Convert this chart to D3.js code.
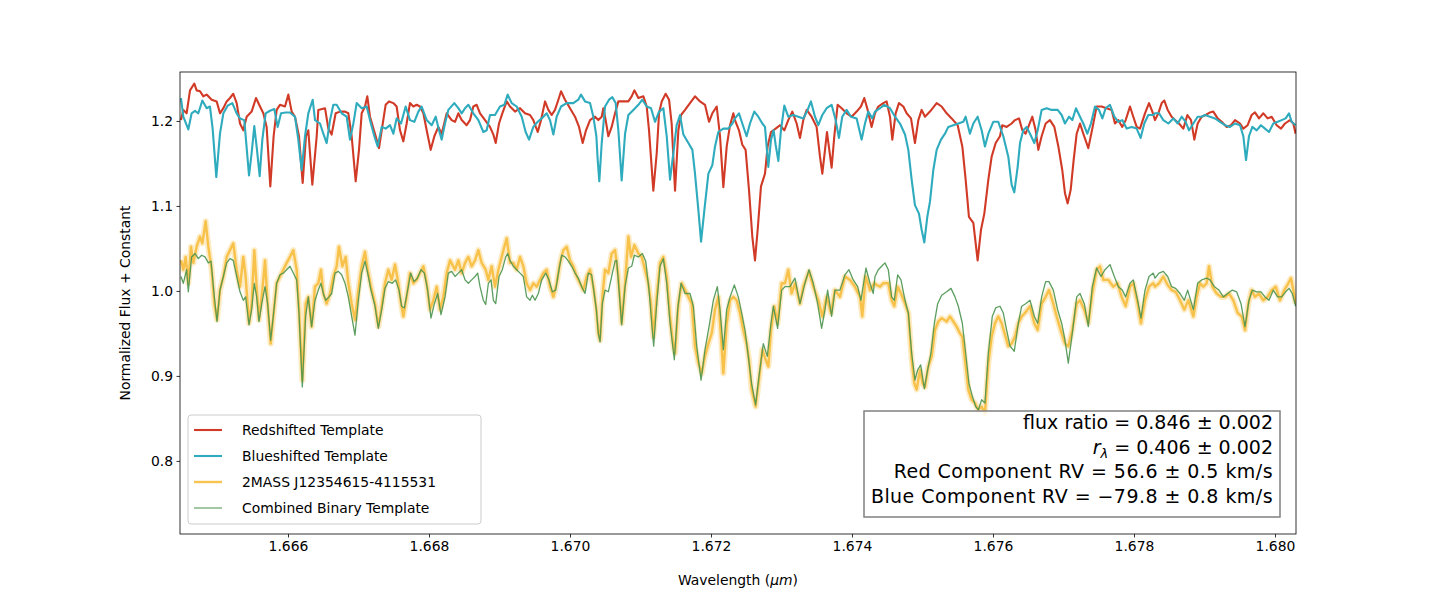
<!DOCTYPE html>
<html>
<head>
<meta charset="utf-8">
<script src="https://cdn.jsdelivr.net/npm/d3@7"></script>
<style>
  body { margin: 0; background: #fff; }
  svg text { font-family: "DejaVu Sans", sans-serif; }
</style>
</head>
<body>
<div id="chart"></div>
<script>
// spectra: [wavelength (um), normalized flux + constant]
const redshifted = [
  [1.664482,1.201],[1.664515,1.213],[1.664562,1.209],[1.664610,1.236],[1.664671,1.244],[1.664704,1.236],[1.664752,1.235],[1.664799,1.229],[1.664846,1.231],[1.664917,1.225],
  [1.664988,1.223],[1.665035,1.209],[1.665083,1.215],[1.665130,1.223],[1.665177,1.227],[1.665224,1.232],[1.665272,1.221],[1.665319,1.197],[1.665366,1.189],[1.665414,1.205],
  [1.665484,1.211],[1.665546,1.227],[1.665603,1.217],[1.665650,1.209],[1.665697,1.193],[1.665749,1.123],[1.665796,1.182],[1.665839,1.213],[1.665886,1.219],[1.665957,1.217],
  [1.666005,1.231],[1.666052,1.211],[1.666099,1.205],[1.666156,1.182],[1.666208,1.127],[1.666255,1.182],[1.666288,1.189],[1.666345,1.125],
  [1.666407,1.182],[1.666430,1.213],[1.666525,1.215],[1.666572,1.191],[1.666619,1.184],[1.666676,1.209],[1.666738,1.211],[1.666809,1.211],[1.666856,1.209],[1.666903,1.182],
  [1.666960,1.129],[1.667007,1.166],[1.667045,1.209],[1.667092,1.217],[1.667125,1.229],[1.667163,1.205],[1.667234,1.185],[1.667291,1.168],[1.667329,1.189],[1.667385,1.219],
  [1.667433,1.223],[1.667494,1.221],[1.667541,1.217],[1.667589,1.189],[1.667636,1.176],[1.667683,1.197],[1.667730,1.221],[1.667778,1.217],[1.667825,1.219],[1.667872,1.217],
  [1.667920,1.209],[1.667967,1.189],[1.668024,1.166],[1.668076,1.182],[1.668132,1.193],[1.668180,1.185],[1.668251,1.209],[1.668321,1.201],
  [1.668369,1.199],[1.668416,1.209],[1.668464,1.201],[1.668534,1.195],[1.668582,1.201],[1.668629,1.217],[1.668676,1.219],[1.668724,1.209],[1.668795,1.201],[1.668865,1.193],
  [1.668913,1.184],[1.668946,1.174],[1.668993,1.197],[1.669040,1.209],[1.669102,1.223],[1.669149,1.217],[1.669220,1.211],[1.669291,1.215],[1.669362,1.209],[1.669433,1.207],
  [1.669480,1.201],[1.669542,1.187],[1.669589,1.201],[1.669646,1.223],[1.669693,1.213],[1.669740,1.207],[1.669787,1.213],[1.669835,1.225],[1.669873,1.235],[1.669929,1.225],
  [1.670000,1.215],[1.670071,1.205],[1.670128,1.193],[1.670180,1.174],[1.670227,1.189],[1.670284,1.201],
  [1.670355,1.205],[1.670402,1.201],[1.670450,1.205],[1.670473,1.215],[1.670506,1.201],[1.670544,1.182],[1.670591,1.193],[1.670639,1.209],[1.670686,1.223],[1.670757,1.223],
  [1.670828,1.223],[1.670875,1.229],[1.670913,1.236],[1.670970,1.227],[1.671041,1.229],[1.671088,1.217],[1.671121,1.189],[1.671182,1.118],[1.671230,1.162],[1.671263,1.209],
  [1.671301,1.223],[1.671357,1.232],[1.671405,1.225],[1.671442,1.197],[1.671490,1.118],[1.671537,1.189],[1.671575,1.207],[1.671632,1.213],[1.671702,1.221],[1.671773,1.229],
  [1.671844,1.223],[1.671915,1.219],[1.671972,1.199],[1.672019,1.209],[1.672081,1.217],[1.672128,1.182],[1.672175,1.122],[1.672223,1.170],[1.672270,1.195],[1.672317,1.209],
  [1.672340,1.201],[1.672397,1.189],[1.672444,1.172],[1.672491,1.166],[1.672539,1.119],[1.672586,1.064],[1.672624,1.036],[1.672662,1.072],[1.672709,1.123],[1.672766,1.138],
  [1.672803,1.170],[1.672851,1.187],[1.672917,1.191],[1.672978,1.195],[1.673040,1.189],[1.673096,1.201],[1.673153,1.211],[1.673215,1.197],[1.673262,1.180],[1.673309,1.201],
  [1.673357,1.213],[1.673427,1.205],[1.673498,1.193],[1.673546,1.158],[1.673579,1.138],[1.673617,1.166],[1.673645,1.187],[1.673678,1.166],[1.673711,1.145],[1.673749,1.182],
  [1.673796,1.219],[1.673853,1.215],[1.673924,1.209],[1.673995,1.205],[1.674066,1.211],[1.674127,1.217],[1.674174,1.227],[1.674222,1.213],[1.674278,1.193],
  [1.674326,1.209],[1.674373,1.217],[1.674444,1.221],[1.674491,1.223],[1.674539,1.205],[1.674572,1.178],[1.674619,1.209],[1.674666,1.221],[1.674728,1.217],[1.674775,1.209],
  [1.674837,1.203],[1.674893,1.174],[1.674941,1.201],[1.674988,1.213],[1.675035,1.205],[1.675106,1.211],[1.675201,1.221],[1.675272,1.217],[1.675343,1.209],[1.675413,1.203],
  [1.675499,1.195],[1.675565,1.170],[1.675612,1.131],[1.675659,1.087],[1.675721,1.080],[1.675782,1.036],[1.675830,1.072],[1.675877,1.091],[1.675934,1.131],[1.675981,1.158],
  [1.676038,1.174],[1.676099,1.182],[1.676132,1.195],[1.676194,1.193],[1.676264,1.197],
  [1.676312,1.201],[1.676369,1.203],[1.676416,1.189],[1.676463,1.185],[1.676511,1.195],[1.676558,1.205],[1.676605,1.189],[1.676643,1.166],[1.676690,1.182],[1.676747,1.197],
  [1.676808,1.201],[1.676870,1.193],[1.676927,1.170],[1.676983,1.142],[1.677021,1.115],[1.677059,1.103],[1.677102,1.119],[1.677144,1.154],[1.677187,1.185],[1.677234,1.197],
  [1.677281,1.185],[1.677352,1.168],[1.677409,1.191],[1.677470,1.217],[1.677541,1.217],[1.677612,1.215],[1.677683,1.213],[1.677730,1.197],[1.677778,1.201],[1.677834,1.193],
  [1.677882,1.201],[1.677943,1.217],[1.677990,1.205],[1.678038,1.193],[1.678085,1.191],[1.678156,1.209],[1.678213,1.221],[1.678260,1.211],
  [1.678298,1.201],[1.678345,1.209],[1.678393,1.221],[1.678430,1.224],[1.678478,1.213],[1.678534,1.205],[1.678582,1.201],[1.678638,1.197],[1.678700,1.191],[1.678757,1.207],
  [1.678809,1.201],[1.678856,1.178],[1.678903,1.197],[1.678960,1.205],[1.679017,1.207],[1.679078,1.210],[1.679125,1.211],[1.679187,1.203],[1.679244,1.199],[1.679315,1.193],
  [1.679376,1.195],[1.679433,1.201],[1.679504,1.197],[1.679551,1.191],[1.679612,1.195],[1.679669,1.207],[1.679716,1.210],[1.679773,1.203],[1.679835,1.209],[1.679896,1.203],
  [1.679953,1.205],[1.680024,1.195],[1.680085,1.191],[1.680142,1.197],[1.680213,1.201],[1.680260,1.197],[1.680293,1.185]
];

const blueshifted = [
  [1.664482,1.227],[1.664515,1.205],[1.664586,1.190],[1.664633,1.209],[1.664681,1.212],[1.664728,1.209],[1.664785,1.224],[1.664846,1.215],[1.664893,1.217],[1.664931,1.191],
  [1.664983,1.134],[1.665035,1.185],[1.665083,1.209],[1.665144,1.218],[1.665210,1.221],[1.665272,1.209],[1.665319,1.203],[1.665380,1.201],[1.665447,1.136],[1.665484,1.162],
  [1.665522,1.194],[1.665560,1.166],[1.665598,1.135],[1.665636,1.178],[1.665683,1.209],[1.665744,1.212],[1.665806,1.214],[1.665853,1.193],[1.665901,1.209],[1.665967,1.210],
  [1.666028,1.210],[1.666099,1.205],[1.666146,1.178],[1.666194,1.142],[1.666241,1.182],[1.666288,1.209],[1.666350,1.225],
  [1.666383,1.201],[1.666454,1.197],[1.666501,1.185],[1.666548,1.174],[1.666596,1.201],[1.666643,1.219],[1.666690,1.219],[1.666761,1.209],[1.666832,1.205],[1.666879,1.178],
  [1.666927,1.197],[1.666974,1.221],[1.667045,1.215],[1.667116,1.217],[1.667163,1.201],[1.667225,1.182],[1.667272,1.170],[1.667329,1.193],[1.667385,1.191],[1.667447,1.195],
  [1.667494,1.185],[1.667541,1.203],[1.667603,1.197],[1.667669,1.217],[1.667730,1.201],[1.667792,1.199],[1.667849,1.211],[1.667896,1.217],[1.667967,1.201],[1.668038,1.195],
  [1.668095,1.205],[1.668142,1.189],[1.668180,1.178],[1.668227,1.197],[1.668274,1.213],[1.668359,1.221],
  [1.668416,1.215],[1.668464,1.209],[1.668511,1.215],[1.668558,1.219],[1.668629,1.209],[1.668700,1.201],[1.668771,1.187],[1.668818,1.189],[1.668865,1.207],[1.668936,1.207],
  [1.669007,1.217],[1.669069,1.219],[1.669116,1.231],[1.669173,1.221],[1.669244,1.217],[1.669315,1.205],[1.669371,1.187],[1.669419,1.178],[1.669480,1.193],[1.669542,1.199],
  [1.669598,1.203],[1.669669,1.209],[1.669716,1.201],[1.669764,1.184],[1.669811,1.205],[1.669873,1.217],[1.669953,1.221],[1.670047,1.221],[1.670118,1.225],[1.670156,1.231],
  [1.670213,1.223],[1.670284,1.221],[1.670331,1.205],
  [1.670374,1.182],[1.670393,1.154],[1.670416,1.129],[1.670450,1.174],[1.670497,1.217],[1.670554,1.225],[1.670601,1.228],[1.670648,1.221],[1.670686,1.189],[1.670733,1.130],
  [1.670781,1.185],[1.670828,1.207],[1.670899,1.213],[1.670970,1.219],[1.671026,1.225],[1.671088,1.217],[1.671149,1.215],[1.671206,1.199],[1.671263,1.211],[1.671324,1.215],
  [1.671372,1.182],[1.671419,1.131],[1.671466,1.162],[1.671513,1.195],[1.671561,1.207],[1.671608,1.184],[1.671679,1.174],[1.671736,1.166],[1.671773,1.138],[1.671821,1.095],
  [1.671859,1.058],[1.671906,1.095],[1.671963,1.138],[1.672019,1.148],[1.672057,1.170],[1.672104,1.187],[1.672175,1.191],[1.672246,1.191],[1.672303,1.197],
  [1.672340,1.203],[1.672397,1.209],[1.672444,1.197],[1.672505,1.182],[1.672553,1.197],[1.672614,1.211],[1.672671,1.205],[1.672728,1.197],[1.672766,1.193],[1.672813,1.146],
  [1.672851,1.178],[1.672888,1.189],[1.672917,1.172],[1.672955,1.153],[1.672992,1.189],[1.673040,1.218],[1.673096,1.205],[1.673167,1.207],[1.673238,1.205],[1.673309,1.203],
  [1.673371,1.213],[1.673418,1.223],[1.673475,1.205],[1.673522,1.195],[1.673579,1.207],[1.673640,1.215],[1.673711,1.219],[1.673768,1.201],[1.673815,1.180],[1.673862,1.205],
  [1.673924,1.213],[1.673985,1.205],[1.674066,1.203],[1.674137,1.178],[1.674184,1.197],[1.674231,1.211],[1.674288,1.203],
  [1.674326,1.211],[1.674397,1.215],[1.674458,1.219],[1.674539,1.215],[1.674610,1.205],[1.674681,1.197],[1.674752,1.184],[1.674799,1.166],[1.674846,1.131],[1.674893,1.101],
  [1.674950,1.091],[1.674988,1.072],[1.675026,1.057],[1.675068,1.087],[1.675106,1.105],[1.675153,1.142],[1.675201,1.166],[1.675262,1.178],[1.675319,1.185],[1.675366,1.193],
  [1.675437,1.195],[1.675508,1.197],[1.675579,1.199],[1.675612,1.205],[1.675673,1.185],[1.675721,1.197],[1.675782,1.205],[1.675839,1.189],[1.675886,1.170],[1.675934,1.185],
  [1.676004,1.199],[1.676075,1.199],[1.676146,1.182],[1.676217,1.158],[1.676264,1.125],[1.676302,1.116],
  [1.676350,1.146],[1.676383,1.174],[1.676430,1.189],[1.676477,1.193],[1.676525,1.185],[1.676586,1.174],[1.676634,1.189],[1.676690,1.213],[1.676761,1.215],[1.676832,1.213],
  [1.676917,1.213],[1.676974,1.207],[1.677021,1.197],[1.677078,1.205],[1.677125,1.201],[1.677177,1.215],[1.677234,1.205],[1.677281,1.197],[1.677338,1.185],[1.677390,1.197],
  [1.677447,1.217],[1.677503,1.213],[1.677551,1.203],[1.677598,1.215],[1.677659,1.219],[1.677721,1.205],[1.677778,1.199],[1.677834,1.201],[1.677896,1.191],[1.677967,1.193],
  [1.678038,1.191],[1.678094,1.180],[1.678146,1.197],[1.678203,1.207],[1.678274,1.207],
  [1.678298,1.209],[1.678355,1.209],[1.678416,1.201],[1.678487,1.197],[1.678558,1.203],[1.678620,1.197],[1.678676,1.205],[1.678733,1.199],[1.678780,1.189],[1.678842,1.197],
  [1.678903,1.205],[1.678960,1.205],[1.679007,1.207],[1.679078,1.205],[1.679149,1.203],[1.679220,1.199],[1.679291,1.195],[1.679362,1.193],[1.679433,1.197],[1.679504,1.195],
  [1.679551,1.182],[1.679589,1.154],[1.679631,1.182],[1.679679,1.193],[1.679740,1.189],[1.679801,1.195],[1.679858,1.191],[1.679915,1.187],[1.679976,1.197],[1.680038,1.199],
  [1.680095,1.201],[1.680151,1.203],[1.680199,1.209],[1.680236,1.199],[1.680293,1.195]
];

const observed = [
  [1.664482,1.036],[1.664515,1.025],[1.664548,1.040],[1.664586,1.009],[1.664624,1.052],[1.664657,1.033],[1.664704,1.052],[1.664752,1.064],[1.664785,1.056],[1.664832,1.082],
  [1.664870,1.052],[1.664917,1.025],[1.664955,0.985],[1.664993,0.966],[1.665035,1.001],[1.665083,1.017],[1.665130,1.040],[1.665177,1.048],[1.665224,1.056],[1.665272,1.025],
  [1.665319,1.005],[1.665366,1.040],[1.665399,1.017],[1.665447,0.962],[1.665484,0.985],[1.665522,1.048],[1.665555,1.005],[1.665588,0.966],[1.665636,1.001],[1.665674,1.036],
  [1.665711,0.985],[1.665754,0.938],[1.665801,0.978],[1.665839,1.009],[1.665886,1.017],[1.665934,1.025],[1.665981,1.033],[1.666028,1.040],[1.666075,1.048],[1.666123,1.025],
  [1.666156,0.978],[1.666203,0.895],[1.666250,0.985],[1.666288,0.993],[1.666335,0.958],
  [1.666383,1.005],[1.666430,1.009],[1.666468,1.025],[1.666501,0.997],[1.666548,0.985],[1.666596,0.997],[1.666643,1.017],[1.666690,1.029],[1.666723,1.052],[1.666771,1.029],
  [1.666818,1.040],[1.666856,1.009],[1.666903,0.985],[1.666950,0.966],[1.666998,1.001],[1.667045,1.029],[1.667092,1.046],[1.667130,1.025],[1.667177,1.005],[1.667234,0.985],
  [1.667281,0.958],[1.667329,0.982],[1.667376,1.009],[1.667423,1.025],[1.667470,1.013],[1.667518,1.031],[1.667565,1.009],[1.667603,0.985],[1.667636,0.970],[1.667683,0.993],
  [1.667730,1.021],[1.667778,1.009],[1.667825,1.013],[1.667872,1.021],[1.667920,1.029],[1.667967,1.009],[1.668014,0.978],[1.668061,0.989],[1.668109,1.005],[1.668156,0.978],
  [1.668203,0.993],[1.668251,1.021],[1.668298,1.036],
  [1.668369,1.025],[1.668416,1.036],[1.668464,1.021],[1.668511,1.033],[1.668558,1.040],[1.668605,1.029],[1.668653,1.036],[1.668700,1.048],[1.668747,1.033],[1.668804,1.025],
  [1.668842,1.013],[1.668889,1.029],[1.668936,1.005],[1.668984,1.025],[1.669031,1.040],[1.669069,1.052],[1.669102,1.062],[1.669149,1.033],[1.669196,1.033],[1.669244,1.025],
  [1.669291,1.040],[1.669338,1.029],[1.669385,1.009],[1.669433,1.001],[1.669480,1.009],[1.669527,1.005],[1.669575,1.013],[1.669622,1.021],[1.669669,1.025],[1.669716,1.005],
  [1.669764,0.993],[1.669811,1.009],[1.669858,1.033],[1.669906,1.048],[1.669953,1.052],[1.670000,1.036],[1.670047,1.029],[1.670095,1.017],[1.670142,1.009],[1.670189,1.001],
  [1.670236,1.017],[1.670284,1.025],[1.670331,1.005],
  [1.670374,0.978],[1.670402,0.950],[1.670426,0.942],[1.670459,0.993],[1.670497,1.025],[1.670544,1.021],[1.670591,1.044],[1.670639,1.048],[1.670686,1.017],[1.670733,0.962],
  [1.670781,1.009],[1.670828,1.064],[1.670866,1.040],[1.670913,1.054],[1.670970,1.044],[1.671017,1.040],[1.671064,1.025],[1.671111,1.009],[1.671149,0.985],[1.671182,0.946],
  [1.671230,0.993],[1.671277,1.033],[1.671324,1.040],[1.671372,1.017],[1.671419,0.970],[1.671466,0.935],[1.671490,0.927],[1.671537,0.985],[1.671584,1.009],[1.671632,1.001],
  [1.671679,0.993],[1.671726,0.985],[1.671773,0.935],[1.671821,0.915],[1.671868,0.903],[1.671915,0.923],[1.671963,0.938],[1.672010,0.950],[1.672057,0.978],[1.672104,0.993],
  [1.672142,0.946],[1.672175,0.903],[1.672223,0.962],[1.672270,0.989],[1.672317,0.993],
  [1.672364,0.989],[1.672411,0.974],[1.672458,0.954],[1.672505,0.938],[1.672539,0.919],[1.672576,0.884],[1.672633,0.864],[1.672680,0.895],[1.672728,0.931],[1.672775,0.919],
  [1.672813,0.911],[1.672851,0.954],[1.672898,0.982],[1.672945,0.962],[1.673002,1.009],[1.673049,1.009],[1.673096,1.025],[1.673144,0.997],[1.673191,1.009],[1.673262,0.985],
  [1.673309,1.005],[1.673390,1.023],[1.673451,1.005],[1.673522,0.989],[1.673579,0.970],[1.673640,0.993],[1.673702,0.974],[1.673758,1.001],[1.673829,0.993],[1.673900,1.017],
  [1.673971,1.013],[1.674042,1.005],[1.674113,0.993],[1.674146,0.970],[1.674193,1.017],[1.674255,1.001],[1.674316,1.009],
  [1.674350,1.007],[1.674397,1.005],[1.674444,1.009],[1.674515,1.009],[1.674562,0.989],[1.674600,0.982],[1.674648,1.005],[1.674695,0.997],[1.674752,0.985],[1.674799,0.974],
  [1.674846,0.919],[1.674884,0.891],[1.674917,0.884],[1.674964,0.907],[1.675002,0.891],[1.675035,0.887],[1.675082,0.911],[1.675130,0.923],[1.675177,0.954],[1.675224,0.964],
  [1.675272,0.968],[1.675343,0.964],[1.675390,0.970],[1.675437,0.964],[1.675484,0.958],[1.675532,0.950],[1.675565,0.946],[1.675603,0.919],[1.675650,0.884],[1.675697,0.872],
  [1.675744,0.868],[1.675792,0.860],[1.675839,0.864],[1.675886,0.856],[1.675934,0.915],[1.675981,0.946],[1.676028,0.962],[1.676075,0.970],[1.676123,0.962],[1.676179,0.946],
  [1.676217,0.935],[1.676264,0.938],
  [1.676312,0.946],[1.676359,0.962],[1.676407,0.970],[1.676454,0.974],[1.676525,0.982],[1.676586,0.962],[1.676634,0.954],[1.676690,0.985],[1.676747,0.993],[1.676794,1.001],
  [1.676842,0.989],[1.676903,0.970],[1.676974,0.950],[1.677021,0.938],[1.677068,0.935],[1.677125,0.954],[1.677187,0.985],[1.677234,0.989],[1.677295,0.978],[1.677352,0.962],
  [1.677409,0.997],[1.677470,1.025],[1.677518,1.029],[1.677565,1.013],[1.677636,1.013],[1.677707,1.005],[1.677768,1.009],[1.677825,0.993],[1.677882,0.982],[1.677943,1.005],
  [1.677990,1.009],[1.678052,0.985],[1.678099,0.962],[1.678156,0.989],[1.678213,1.005],[1.678274,1.009],
  [1.678298,1.005],[1.678355,1.009],[1.678416,1.017],[1.678478,1.007],[1.678534,1.001],[1.678591,0.999],[1.678653,0.989],[1.678714,0.978],[1.678771,0.989],[1.678842,0.970],
  [1.678889,0.993],[1.678936,1.009],[1.678984,1.005],[1.679031,1.009],[1.679064,1.029],[1.679111,1.005],[1.679173,0.997],[1.679234,0.993],[1.679291,0.993],[1.679348,0.997],
  [1.679409,0.989],[1.679471,0.974],[1.679527,0.970],[1.679575,0.954],[1.679622,0.985],[1.679669,1.001],[1.679716,0.993],[1.679773,0.997],[1.679835,0.989],[1.679896,0.993],
  [1.679953,1.001],[1.680010,1.005],[1.680071,0.989],[1.680132,1.001],[1.680189,1.009],[1.680227,1.015],[1.680260,1.001],[1.680293,0.985]
];

const combined = [
  [1.664482,1.017],[1.664515,1.009],[1.664562,1.025],[1.664586,0.999],[1.664633,1.040],[1.664681,1.044],[1.664728,1.038],[1.664775,1.042],[1.664823,1.040],[1.664870,1.033],
  [1.664908,1.035],[1.664955,0.993],[1.664993,0.964],[1.665035,1.001],[1.665083,1.017],[1.665130,1.033],[1.665177,1.038],[1.665224,1.036],[1.665272,1.017],[1.665319,0.999],
  [1.665366,0.989],[1.665399,0.993],[1.665447,0.960],[1.665484,0.978],[1.665522,1.009],[1.665555,0.993],[1.665588,0.964],[1.665636,0.989],[1.665674,1.005],[1.665711,0.985],
  [1.665754,0.942],[1.665801,0.978],[1.665839,1.009],[1.665886,1.019],[1.665934,1.021],[1.665981,1.025],[1.666028,1.029],[1.666075,1.021],[1.666123,1.013],[1.666156,0.974],
  [1.666203,0.887],[1.666250,0.970],[1.666288,0.993],[1.666335,0.958],
  [1.666383,0.989],[1.666430,1.001],[1.666468,1.009],[1.666501,0.997],[1.666534,0.989],[1.666582,0.993],[1.666619,0.997],[1.666667,1.021],[1.666714,1.023],[1.666761,1.019],
  [1.666809,1.009],[1.666856,0.993],[1.666903,0.970],[1.666950,0.948],[1.666998,0.989],[1.667045,1.021],[1.667092,1.035],[1.667130,1.021],[1.667177,1.001],[1.667234,0.982],
  [1.667281,0.956],[1.667329,0.978],[1.667376,1.003],[1.667423,1.011],[1.667480,1.009],[1.667527,1.013],[1.667574,1.001],[1.667612,0.982],[1.667650,0.980],[1.667697,1.001],
  [1.667740,1.021],[1.667787,1.011],[1.667834,1.015],[1.667887,1.025],[1.667934,1.021],[1.667981,1.001],[1.668028,0.968],[1.668076,0.985],[1.668123,0.997],[1.668170,0.972],
  [1.668227,0.993],[1.668274,1.021],[1.668321,1.023],
  [1.668369,1.017],[1.668416,1.021],[1.668464,1.025],[1.668511,1.013],[1.668558,1.009],[1.668605,1.013],[1.668653,1.017],[1.668690,1.021],[1.668724,1.005],[1.668771,0.989],
  [1.668804,0.984],[1.668842,1.009],[1.668880,1.013],[1.668913,0.989],[1.668946,0.985],[1.668993,1.017],[1.669040,1.025],[1.669088,1.040],[1.669116,1.044],[1.669149,1.036],
  [1.669196,1.029],[1.669244,1.025],[1.669291,1.021],[1.669338,1.017],[1.669385,0.993],[1.669433,0.989],[1.669466,0.995],[1.669504,0.989],[1.669551,0.997],[1.669598,1.013],
  [1.669655,1.021],[1.669702,1.013],[1.669750,0.999],[1.669797,1.001],[1.669844,1.025],[1.669882,1.042],[1.669929,1.040],[1.669977,1.035],[1.670024,1.029],[1.670071,1.021],
  [1.670118,1.015],[1.670166,1.005],[1.670213,0.997],[1.670260,1.021],[1.670307,1.019],
  [1.670374,0.978],[1.670402,0.950],[1.670426,0.940],[1.670459,0.985],[1.670497,1.001],[1.670544,0.999],[1.670591,1.017],[1.670639,1.035],[1.670662,1.036],[1.670695,1.001],
  [1.670733,0.960],[1.670781,1.005],[1.670828,1.027],[1.670875,1.029],[1.670913,1.042],[1.670970,1.040],[1.671026,1.044],[1.671074,1.035],[1.671121,1.001],[1.671159,0.962],
  [1.671187,0.935],[1.671230,0.985],[1.671277,1.029],[1.671324,1.038],[1.671372,1.009],[1.671419,0.962],[1.671480,0.919],[1.671527,0.978],[1.671575,1.009],[1.671632,0.997],
  [1.671702,0.997],[1.671750,0.982],[1.671797,0.935],[1.671859,0.895],[1.671915,0.931],[1.671972,0.958],[1.672033,0.989],[1.672090,1.005],[1.672128,0.978],[1.672175,0.931],
  [1.672223,0.978],[1.672270,0.993],[1.672331,1.007],
  [1.672387,0.993],[1.672435,0.974],[1.672482,0.954],[1.672529,0.923],[1.672576,0.891],[1.672633,0.866],[1.672680,0.899],[1.672742,0.938],[1.672799,0.923],[1.672851,0.962],
  [1.672884,0.982],[1.672945,0.956],[1.673002,1.001],[1.673049,1.005],[1.673120,1.005],[1.673191,1.015],[1.673262,0.985],[1.673333,1.009],[1.673390,1.025],[1.673451,1.009],
  [1.673513,0.985],[1.673569,0.956],[1.673617,0.978],[1.673654,1.001],[1.673711,0.970],[1.673758,1.001],[1.673829,1.001],[1.673900,1.019],[1.673957,1.025],[1.674018,1.013],
  [1.674080,1.005],[1.674127,0.989],[1.674198,1.027],[1.674255,1.009],[1.674302,0.997],
  [1.674326,1.017],[1.674373,1.025],[1.674420,1.029],[1.674468,1.033],[1.674515,1.025],[1.674562,0.993],[1.674600,0.989],[1.674648,1.019],[1.674695,1.013],[1.674752,0.989],
  [1.674799,0.974],[1.674846,0.927],[1.674893,0.895],[1.674931,0.907],[1.674974,0.913],[1.675026,0.885],[1.675073,0.907],[1.675120,0.927],[1.675168,0.962],[1.675215,0.985],
  [1.675272,0.995],[1.675343,0.999],[1.675404,1.003],[1.675461,0.993],[1.675508,0.982],[1.675565,0.962],[1.675612,0.927],[1.675659,0.891],[1.675707,0.876],[1.675754,0.864],
  [1.675792,0.860],[1.675839,0.872],[1.675886,0.868],[1.675934,0.927],[1.675990,0.970],[1.676038,0.980],[1.676099,0.982],[1.676146,0.974],[1.676194,0.954],[1.676241,0.935],
  [1.676302,0.929],
  [1.676359,0.962],[1.676407,0.982],[1.676463,0.985],[1.676525,0.989],[1.676586,0.970],[1.676634,0.962],[1.676690,0.993],[1.676747,1.011],[1.676794,1.011],[1.676856,1.001],
  [1.676917,0.978],[1.676974,0.962],[1.677021,0.942],[1.677068,0.915],[1.677125,0.950],[1.677187,0.993],[1.677234,0.997],[1.677295,0.985],[1.677352,0.958],[1.677409,1.005],
  [1.677470,1.027],[1.677532,1.017],[1.677589,1.025],[1.677659,1.031],[1.677721,1.017],[1.677778,1.005],[1.677834,1.001],[1.677882,0.993],[1.677943,1.009],[1.677990,1.013],
  [1.678052,0.989],[1.678099,0.968],[1.678156,1.001],[1.678213,1.017],[1.678274,1.021],
  [1.678298,1.015],[1.678355,1.021],[1.678416,1.023],[1.678478,1.017],[1.678534,1.005],[1.678591,1.003],[1.678653,0.997],[1.678714,0.989],[1.678761,1.001],[1.678842,0.978],
  [1.678903,1.009],[1.678960,1.013],[1.679031,1.015],[1.679078,1.013],[1.679140,1.005],[1.679206,1.001],[1.679267,0.993],[1.679329,0.997],[1.679395,1.001],[1.679456,0.999],
  [1.679518,0.985],[1.679575,0.958],[1.679631,0.989],[1.679679,1.001],[1.679740,0.999],[1.679801,0.999],[1.679858,0.993],[1.679915,0.989],[1.679976,1.001],[1.680038,0.993],
  [1.680095,0.993],[1.680151,0.999],[1.680199,1.003],[1.680246,0.997],[1.680293,0.982]
];

const xTicks = [1.666, 1.668, 1.670, 1.672, 1.674, 1.676, 1.678, 1.680];
const yTicks = [0.8, 0.9, 1.0, 1.1, 1.2];
const legendNames = ["Redshifted Template", "Blueshifted Template", "2MASS J12354615-4115531", "Combined Binary Template"];
const fitResults = ["flux ratio = 0.846 \u00b1 0.002", " = 0.406 \u00b1 0.002", "Red Component RV = 56.6 \u00b1 0.5 km/s", "Blue Component RV = \u221279.8 \u00b1 0.8 km/s"];

const W = 1440, H = 600;
const margin = { top: 72, right: 144, bottom: 66, left: 180 },
  width = W - margin.left - margin.right,
  height = H - margin.top - margin.bottom;

const x = d3.scaleLinear().domain([1.664468, 1.680298]).range([0, width]);
const y = d3.scaleLinear().domain([0.714, 1.2576]).range([height, 0]);

const root = d3.select("#chart").append("svg")
  .attr("width", W).attr("height", H);

const svg = root.append("g")
  .attr("transform", `translate(${margin.left},${margin.top})`);

svg.append("clipPath").attr("id", "clip")
  .append("rect").attr("width", width).attr("height", height);

const line = d3.line().x(d => x(d[0])).y(d => y(d[1]));
const plot = svg.append("g").attr("clip-path", "url(#clip)");

const red = "#d13a26", teal = "#2eabbd", gold = "#f7bd3c", green = "#4a944e";

plot.append("path").datum(redshifted)
  .attr("fill", "none").attr("stroke", red).attr("stroke-width", 2.1)
  .attr("stroke-linejoin", "round").attr("d", line);

plot.append("path").datum(blueshifted)
  .attr("fill", "none").attr("stroke", teal).attr("stroke-width", 2.1)
  .attr("stroke-linejoin", "round").attr("d", line);

// error band of the observed spectrum
plot.append("path").datum(observed)
  .attr("fill", "none").attr("stroke", gold).attr("stroke-width", 6)
  .attr("stroke-opacity", 0.3).attr("stroke-linejoin", "round").attr("d", line);

plot.append("path").datum(observed)
  .attr("fill", "none").attr("stroke", gold).attr("stroke-width", 2.4)
  .attr("stroke-opacity", 0.9).attr("stroke-linejoin", "round").attr("d", line);

plot.append("path").datum(combined)
  .attr("fill", "none").attr("stroke", green).attr("stroke-width", 1.3)
  .attr("stroke-opacity", 0.9).attr("stroke-linejoin", "round").attr("d", line);

// axes
const xAxis = svg.append("g")
  .attr("transform", `translate(0,${height})`)
  .call(d3.axisBottom(x).tickValues(xTicks).tickFormat(d3.format(".3f"))
    .tickSize(3.5).tickPadding(3.5).tickSizeOuter(0));

const yAxis = svg.append("g")
  .call(d3.axisLeft(y).tickValues(yTicks).tickFormat(d3.format(".1f"))
    .tickSize(3.5).tickPadding(3.5).tickSizeOuter(0));

[xAxis, yAxis].forEach(a => {
  a.select(".domain").remove();
  a.selectAll(".tick line").attr("stroke", "#000").attr("stroke-width", 0.8);
  a.selectAll(".tick text").attr("fill", "#000").style("font-size", "13.9px")
    .style("font-family", "DejaVu Sans");
});

svg.append("rect")
  .attr("width", width).attr("height", height)
  .attr("fill", "none").attr("stroke", "#000").attr("stroke-width", 0.8);

// axis labels
svg.append("text")
  .attr("transform", "rotate(-90)")
  .attr("x", -height / 2).attr("y", -50)
  .attr("text-anchor", "middle")
  .style("font-size", "13.9px")
  .text("Normalized Flux + Constant");

const xl = svg.append("text")
  .attr("x", width / 2).attr("y", height + 51)
  .attr("text-anchor", "middle")
  .style("font-size", "13.9px");
xl.append("tspan").text("Wavelength (");
xl.append("tspan").style("font-style", "italic").text("\u03bcm");
xl.append("tspan").text(")");

// legend
const lg = root.append("g").attr("transform", "translate(188,415)");
lg.append("rect")
  .attr("width", 293).attr("height", 109).attr("rx", 3)
  .attr("fill", "#fff").attr("fill-opacity", 0.8)
  .attr("stroke", "#cccccc").attr("stroke-width", 1);

const legendStyle = [
  { c: red, w: 2.1, o: 1 },
  { c: teal, w: 2.1, o: 1 },
  { c: gold, w: 2.4, o: 0.9 },
  { c: green, w: 1.3, o: 0.8 }
];
legendNames.forEach((n, i) => {
  const yy = 15 + i * 26;
  lg.append("line")
    .attr("x1", 6).attr("x2", 34).attr("y1", yy).attr("y2", yy)
    .attr("stroke", legendStyle[i].c).attr("stroke-width", legendStyle[i].w)
    .attr("stroke-opacity", legendStyle[i].o);
  lg.append("text")
    .attr("x", 54).attr("y", yy + 5)
    .style("font-size", "13.9px")
    .text(n);
});

// fit results box
const tb = root.append("g").attr("transform", "translate(864,411)");
tb.append("rect")
  .attr("width", 416).attr("height", 106)
  .attr("fill", "#fff").attr("fill-opacity", 0.8)
  .attr("stroke", "#808080").attr("stroke-width", 1.5);

fitResults.forEach((t, i) => {
  const txt = tb.append("text")
    .attr("x", 409).attr("y", 18 + i * 24.7)
    .attr("text-anchor", "end")
    .style("font-size", "19px")
    .style("letter-spacing", i >= 2 ? "0.45px" : "0px");
  if (i === 1) {
    txt.append("tspan").style("font-style", "italic").text("r");
    txt.append("tspan").style("font-style", "italic").style("font-size", "13px")
      .attr("dy", 4).text("\u03bb");
    txt.append("tspan").attr("dy", -4).text(t);
  } else {
    txt.text(t);
  }
});
</script>
</body>
</html>
